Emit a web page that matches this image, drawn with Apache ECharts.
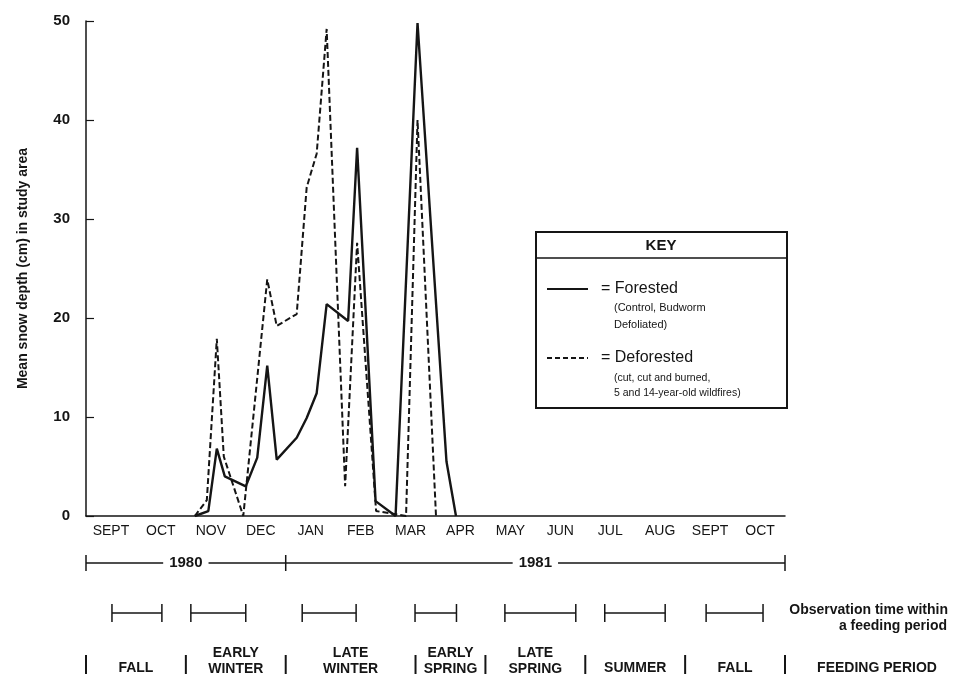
<!DOCTYPE html>
<html>
<head>
<meta charset="utf-8">
<script src="https://cdn.jsdelivr.net/npm/echarts@6/dist/echarts.min.js"></script>
<style>
html,body{margin:0;padding:0;background:#fff;}
#chart{width:979px;height:677px;}
</style>
</head>
<body>
<div id="chart"></div>
<script>
// ---- data ----
const months = ['SEPT','OCT','NOV','DEC','JAN','FEB','MAR','APR','MAY','JUN','JUL','AUG','SEPT','OCT'];
// x in months since 1 Sept 1980
const forestedX = [2.18,2.45,2.62,2.78,3.20,3.43,3.63,3.82,4.22,4.42,4.62,4.82,5.25,5.43,5.80,6.20,6.64,7.22,7.41];
const forestedY = [0,0.5,6.8,4.0,3.0,5.9,15.2,5.7,7.9,9.9,12.4,21.4,19.7,37.2,1.5,0,49.8,5.5,0];
const deforestedX = [2.18,2.42,2.62,2.76,3.15,3.63,3.82,4.22,4.42,4.62,4.82,5.19,5.43,5.81,6.41,6.64,7.01];
const deforestedY = [0,1.6,17.9,6.0,0,23.9,19.2,20.4,33.2,36.6,49.2,3.0,27.6,0.5,0,40.0,0];
const yearLabels = ['1980','1981'];
const yearLabelPos = [2, 9];
const yearBounds = [0, 4, 14];
const obsStart = [0.52, 2.10, 4.33, 6.59, 8.39, 10.39, 12.42];
const obsEnd   = [1.52, 3.20, 5.41, 7.42, 9.81, 11.60, 13.56];
const feedBounds = [0, 2, 4, 6.6, 8, 10, 12, 14];
const feedLabels = ['FALL','EARLY\nWINTER','LATE\nWINTER','EARLY\nSPRING','LATE\nSPRING','SUMMER','FALL'];

const FONT = '"Liberation Sans", Arial, Helvetica, sans-serif';
const INK = '#151515';

const chart = echarts.init(document.getElementById('chart'));
chart.setOption({
  animation: false,
  backgroundColor: '#fff',
  textStyle: {fontFamily: FONT, color: INK},
  grid: {left: 86, right: 194, top: 21, bottom: 161},
  xAxis: [{
    type: 'category', data: months, boundaryGap: true, position: 'bottom',
    axisLine: {lineStyle: {color: INK, width: 1.5}},
    axisTick: {inside: true, length: 7, interval: 0, lineStyle: {color: INK, width: 1.2}},
    axisLabel: {color: INK, fontSize: 14, margin: 8, interval: 0, fontFamily: FONT}
  }, {
    type: 'value', min: 0, max: 14, show: false
  }],
  yAxis: {
    type: 'value', min: 0, max: 50, interval: 10,
    name: 'Mean snow depth (cm) in study area', nameLocation: 'middle', nameGap: 56,
    nameTextStyle: {fontSize: 14, fontWeight: 'bold', color: INK, fontFamily: FONT},
    axisLine: {show: true, lineStyle: {color: INK, width: 1.5}},
    axisTick: {show: true, inside: true, length: 8, lineStyle: {color: INK, width: 1.2}},
    axisLabel: {color: INK, fontSize: 15, fontWeight: 'bold', margin: 16, fontFamily: FONT},
    splitLine: {show: false}
  },
  series: [{
    name: 'Forested', type: 'line', xAxisIndex: 1, symbol: 'none',
    data: forestedX.map((x, i) => [x, forestedY[i]]),
    lineStyle: {color: INK, width: 2.4, type: 'solid'}, z: 3
  }, {
    name: 'Deforested', type: 'line', xAxisIndex: 1, symbol: 'none',
    data: deforestedX.map((x, i) => [x, deforestedY[i]]),
    lineStyle: {color: INK, width: 2, type: [6, 3]}, z: 2
  }]
});

const px = m => chart.convertToPixel({xAxisIndex: 1}, m);
const g = [];
const line = (x1, y1, x2, y2, w) => g.push({type: 'line', shape: {x1, y1, x2, y2}, style: {stroke: INK, lineWidth: w || 1.5}, silent: true});
const text = (t, x, y, o) => g.push({type: 'text', x, y, silent: true, z: 10, style: Object.assign({text: t, fill: INK, fontFamily: FONT, fontSize: 14, fontWeight: 'bold', align: 'center', verticalAlign: 'middle'}, o || {})});

// legend box
g.push({type: 'rect', shape: {x: 536, y: 232, width: 251, height: 176}, style: {fill: '#fff', stroke: INK, lineWidth: 2}, silent: true});
line(536, 258, 787, 258, 1.5);
text('KEY', 661, 246, {fontSize: 15});
line(547, 289, 588, 289, 2);
text('= Forested', 601, 289, {fontSize: 16, fontWeight: 'normal', align: 'left'});
text('(Control, Budworm', 614, 308, {fontSize: 11, fontWeight: 'normal', align: 'left'});
text('Defoliated)', 614, 325, {fontSize: 11, fontWeight: 'normal', align: 'left'});
g.push({type: 'line', shape: {x1: 547, y1: 358, x2: 588, y2: 358}, style: {stroke: INK, lineWidth: 1.8, lineDash: [5, 3]}, silent: true});
text('= Deforested', 601, 358, {fontSize: 16, fontWeight: 'normal', align: 'left'});
text('(cut, cut and burned,', 614, 378, {fontSize: 10.5, fontWeight: 'normal', align: 'left'});
text('5 and 14-year-old wildfires)', 614, 393, {fontSize: 10.5, fontWeight: 'normal', align: 'left'});

// year bar
const yY = 563;
line(px(yearBounds[0]), yY, px(yearBounds[yearBounds.length - 1]), yY, 1.5);
yearBounds.forEach(b => line(px(b), yY - 8, px(b), yY + 8, 1.5));
yearLabels.forEach((l, i) => text(l, px(yearLabelPos[i]), yY, {fontSize: 15, backgroundColor: '#fff', padding: [0, 6]}));

// observation bars
const oY = 613;
obsStart.forEach((s, i) => {
  line(px(s), oY, px(obsEnd[i]), oY, 1.5);
  line(px(s), oY - 9, px(s), oY + 9, 1.5);
  line(px(obsEnd[i]), oY - 9, px(obsEnd[i]), oY + 9, 1.5);
});
text('Observation time within', 948, 610, {align: 'right', fontSize: 14});
text('a feeding period', 947, 626, {align: 'right', fontSize: 14});

// feeding periods
feedBounds.forEach(b => line(px(b), 655, px(b), 674, 2));
feedLabels.forEach((l, i) => {
  const cx = px((feedBounds[i] + feedBounds[i + 1]) / 2);
  const two = l.indexOf('\n') >= 0;
  text(l, cx, two ? 661 : 668, {fontSize: 14, lineHeight: 16});
});
text('FEEDING PERIOD', 877, 668, {fontSize: 14});

chart.setOption({graphic: g});
</script>
</body>
</html>
